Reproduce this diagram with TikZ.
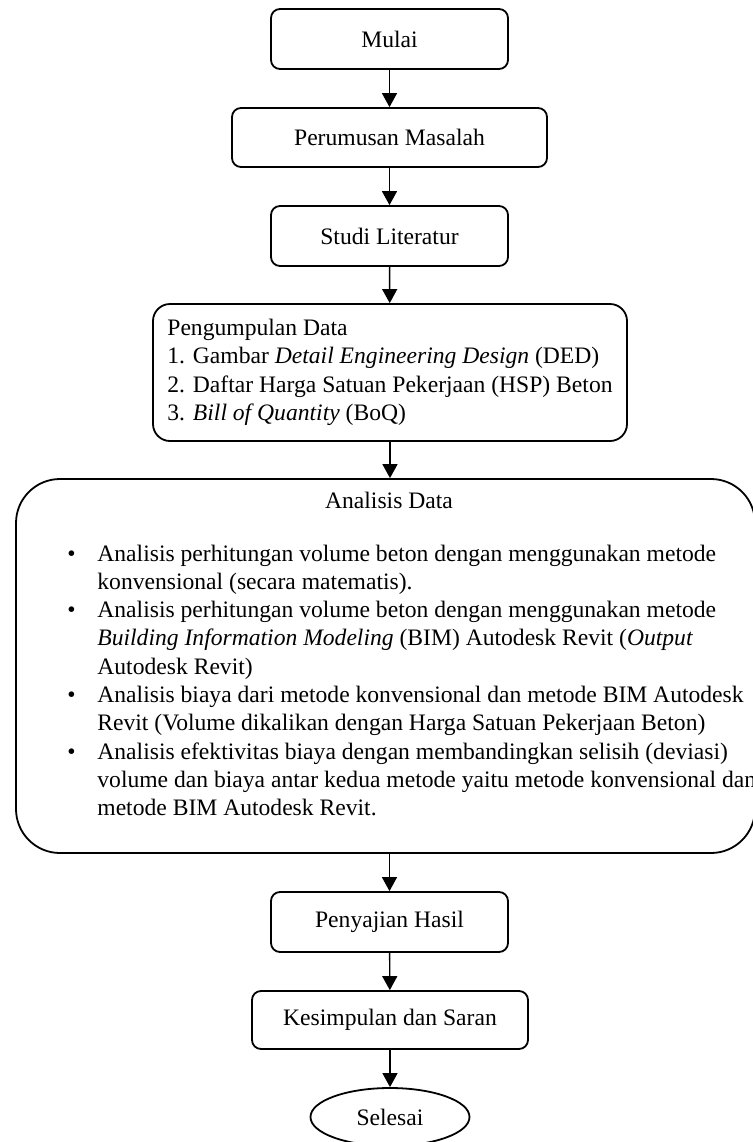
\documentclass[tikz,border=0pt]{standalone}
\usepackage{fontspec}
\setmainfont{Liberation Serif}
\usetikzlibrary{arrows.meta,shapes.geometric}
\begin{document}
\begin{tikzpicture}[x=0.5pt, y=-0.5pt,
    texte/.style={inner sep=0pt, font=\fontsize{11.8}{14.15}\selectfont},
    boite/.style={texte, draw, line width=0.9pt, rounded corners=4.5pt, minimum height=30pt},
    fleche/.style={-{Triangle[width=7.5pt,length=7pt]}, line width=0.7pt}]
                \useasboundingbox (0,0) rectangle (752,1142);

                % Etapes du haut
                \node[boite, minimum width=118.5pt] (mulai) at (389.5,39) {Mulai};
                \node[boite, minimum width=157.5pt, minimum height=29.5pt] (rumusan) at (389.5,137.5) {Perumusan Masalah};
                \node[boite, minimum width=118.5pt] (studi) at (389.5,236) {Studi Literatur};

                % Collecte des donnees
                \node[boite, minimum width=237pt, minimum height=68.5pt, rounded corners=8.5pt, align=left] (data) at (390,372.5)
                    {Pengumpulan Data\\
                     1. Gambar \textit{Detail Engineering Design} (DED)\\
                     2. Daftar Harga Satuan Pekerjaan (HSP) Beton\\
                     3. \textit{Bill of Quantity} (BoQ)};

                % Grand cadre d'analyse
                \node[boite, minimum width=369.5pt, minimum height=187pt, rounded corners=22pt] (analisis) at (385.5,666) {};
                \node[texte] (judul) at (389,500) {Analisis Data};
                \node[texte, anchor=base west] (daftar) at (67,561)
                    {\begin{tabular}[t]{@{}p{15pt}@{}l@{}}
                     \textbullet & Analisis perhitungan volume beton dengan menggunakan metode\\
                                 & konvensional (secara matematis).\\
                     \textbullet & Analisis perhitungan volume beton dengan menggunakan metode\\
                                 & \textit{Building Information Modeling} (BIM) Autodesk Revit (\textit{Output}\\
                                 & Autodesk Revit)\\
                     \textbullet & Analisis biaya dari metode konvensional dan metode BIM Autodesk\\
                                 & Revit (Volume dikalikan dengan Harga Satuan Pekerjaan Beton)\\
                     \textbullet & Analisis efektivitas biaya dengan membandingkan selisih (deviasi)\\
                                 & volume dan biaya antar kedua metode yaitu metode konvensional dan\\
                                 & metode BIM Autodesk Revit.
                     \end{tabular}};

                % Etapes du bas
                \node[boite, minimum width=118.5pt] (hasil) at (389.5,922) {Penyajian Hasil};
                \node[boite, minimum width=138pt, minimum height=29pt] (simpulan) at (390,1020) {Kesimpulan dan Saran};
                \node[texte, draw, ellipse, line width=0.9pt, minimum width=79.5pt, minimum height=29pt] (selesai) at (390,1117) {Selesai};

                % Fleches
                \draw[fleche] (mulai) -- (rumusan);
                \draw[fleche] (rumusan) -- (studi);
                \draw[fleche] (studi) -- (data);
                \draw[fleche] (data.south) -- (data.south |- analisis.north);
                \draw[fleche] (analisis.south -| hasil.north) -- (hasil.north);
                \draw[fleche] (hasil) -- (simpulan);
                \draw[fleche] (simpulan) -- (selesai);
            \end{tikzpicture}
\end{document}
